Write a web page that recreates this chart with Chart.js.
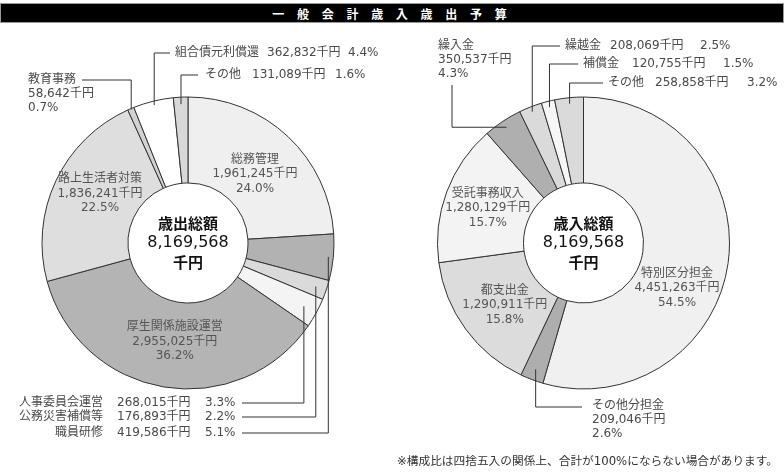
<!DOCTYPE html>
<html><head><meta charset="utf-8">
<script src="https://cdn.jsdelivr.net/npm/chart.js@4/dist/chart.umd.min.js"></script>
<style>
html,body{margin:0;padding:0;background:#fff;}
#wrap{position:relative;width:784px;height:472px;overflow:hidden;font-family:"Noto Sans CJK JP","Noto Sans",sans-serif;}
canvas{position:absolute;left:0;top:0;}
#title{position:absolute;left:0;top:3px;width:784px;height:20px;background:#000;color:#fff;font-weight:bold;font-size:12px;line-height:20px;text-align:center;letter-spacing:5px;border:1px solid #999;box-sizing:border-box;}
#note{position:absolute;left:397px;top:453px;font-size:11.7px;line-height:16px;color:#333;white-space:nowrap;font-family:"DejaVu Sans","Noto Sans CJK JP",sans-serif;}
</style></head>
<body><div id="wrap">
<div id="title">一 般 会 計 歳 入 歳 出 予 算</div>
<canvas id="c1" width="784" height="472"></canvas>
<canvas id="c2" width="784" height="472"></canvas>
<div id="note">※構成比は四捨五入の関係上、合計が100%にならない場合があります。</div>
</div>
<script>
// ---- data (thousand yen) ----
const expenditureCategories = ['総務管理','職員研修','公務災害補償等','人事委員会運営','厚生関係施設運営','路上生活者対策','教育事務','組合債元利償還','その他'];
const expenditureValues = [1961245, 419586, 176893, 268015, 2955025, 1836241, 58642, 362832, 131089];
const revenueCategories = ['特別区分担金','その他分担金','都支出金','受託事務収入','繰入金','繰越金','補償金','その他'];
const revenueValues = [4451263, 209046, 1290911, 1280129, 350537, 208069, 120755, 258858];
const expenditureTitle = '歳出総額';
const revenueTitle = '歳入総額';
const unit = '千円';

// ---- styles / layout ----
const expenditureColors = ['#efefef','#b2b2b2','#dadada','#f4f4f4','#b4b4b4','#dedede','#d2d2d2','#ffffff','#d8d8d8'];
const revenueColors = ['#f0f0f0','#aeaeae','#dcdcdc','#f3f3f3','#afafaf','#dadada','#f6f6f6','#dadada'];
const FONT = '"DejaVu Sans","Noto Sans CJK JP",sans-serif';
const CFONT = '"Noto Sans CJK JP",sans-serif';

const leftLayout = {
  pad:{left:41.5,right:449.5,top:96.5,bottom:82.5},
  inside:[{i:0,dx:-1.5,dy:4},{i:4,dx:3.5,dy:0},{i:5,dx:2.5,dy:-7}],
  stacks:[{i:6,x:28,y:80,from:[82,80],r:145,mode:'hv'}],
  rows:[
    {i:7,cols:[175,267,348],y:53,from:[170,53],r:142},
    {i:8,cols:[205,252,335],y:75,from:[198,75],r:139},
    {i:3,cols:[103,117,205],right:true,y:403,from:[242,403],r:132},
    {i:2,cols:[103,117,205],right:true,y:417,from:[242,417],r:135},
    {i:1,cols:[103,117,205],right:true,y:433,from:[242,433],r:141}
  ]
};
const rightLayout = {
  pad:{left:437,right:54,top:96.5,bottom:82.5},
  inside:[{i:0,dx:-5.5,dy:31},{i:2,dx:2,dy:3},{i:3,dx:-2,dy:0}],
  stacks:[
    {i:4,x:438,y:46,from:[452,85],r:139,mode:'vh'},
    {i:1,x:592,y:406,from:[582,407],r:135,mode:'hv'}
  ],
  rows:[
    {i:5,cols:[565,610,700],y:46,from:[560,46],r:141},
    {i:6,cols:[583,632,723],y:64,from:[578,64],r:140},
    {i:7,cols:[608,655,747],y:83,from:[603,83],r:140}
  ]
};

const fmt = v => v.toLocaleString('en-US');
const pctOf = (v,t) => (Math.round(v/t*1000)/10).toFixed(1)+'%';

function labelPlugin(layout, cats, title){
  return {
    id:'customLabels',
    afterDatasetsDraw(chart){
      const ctx = chart.ctx;
      const meta = chart.getDatasetMeta(0);
      const vals = chart.data.datasets[0].data;
      const total = vals.reduce((a,b)=>a+b,0);
      const pt = (i,r)=>{
        const a = meta.data[i].getProps(['startAngle','endAngle','x','y'],true);
        const m = (a.startAngle+a.endAngle)/2;
        return [a.x+Math.cos(m)*r, a.y+Math.sin(m)*r];
      };
      const lines = i => [cats[i], fmt(vals[i])+unit, pctOf(vals[i],total)];
      ctx.save();
      ctx.textBaseline='middle';
      ctx.font = '12px '+FONT;
      // inside labels
      ctx.fillStyle='#555';
      ctx.textAlign='center';
      layout.inside.forEach(o=>{
        const [x,y]=pt(o.i,100);
        lines(o.i).forEach((t,k)=>ctx.fillText(t,x+o.dx,y+o.dy+(k-1)*14.5));
      });
      ctx.strokeStyle='#333'; ctx.lineWidth=1;
      const drawPath = p => {ctx.beginPath(); ctx.moveTo(p[0][0],p[0][1]); for(let k=1;k<p.length;k++) ctx.lineTo(p[k][0],p[k][1]); ctx.stroke();};
      ctx.fillStyle='#4a4a4a';
      layout.stacks.forEach(o=>{
        ctx.textAlign='left';
        lines(o.i).forEach((t,k)=>ctx.fillText(t,o.x,o.y+k*13.7));
        const e = pt(o.i,o.r);
        const f = o.from;
        const p = o.mode==='hv' ? [f,[e[0],f[1]],e] : [f,[f[0],e[1]],e];
        drawPath(p);
      });
      layout.rows.forEach(o=>{
        const L = lines(o.i);
        ctx.textAlign = o.right ? 'right':'left';
        ctx.fillText(L[0],o.cols[0],o.y);
        ctx.textAlign='left';
        ctx.fillText(L[1],o.cols[1],o.y);
        ctx.fillText(L[2],o.cols[2],o.y);
        const e = pt(o.i,o.r);
        drawPath([o.from,[e[0],o.from[1]],e]);
      });
      const c = meta.data[0];
      ctx.fillStyle='#111';
      ctx.textAlign='center';
      ctx.font='bold 15px '+CFONT;
      ctx.fillText(title,c.x,c.y-20);
      ctx.font='16px "DejaVu Sans",sans-serif';
      ctx.fillText(fmt(total),c.x,c.y);
      ctx.font='bold 15px '+CFONT;
      ctx.fillText(unit,c.x,c.y+19);
      ctx.restore();
    }
  };
}

function makeChart(id, cats, vals, colors, layout, title){
  return new Chart(document.getElementById(id),{
    type:'doughnut',
    data:{labels:cats,datasets:[{data:vals,backgroundColor:colors,borderColor:'#333',borderWidth:1,borderAlign:'center'}]},
    options:{
      responsive:false,animation:false,devicePixelRatio:1,cutout:60,
      layout:{padding:layout.pad},
      plugins:{legend:{display:false},tooltip:{enabled:false},title:{display:false}}
    },
    plugins:[labelPlugin(layout,cats,title)]
  });
}
makeChart('c1',expenditureCategories,expenditureValues,expenditureColors,leftLayout,expenditureTitle);
makeChart('c2',revenueCategories,revenueValues,revenueColors,rightLayout,revenueTitle);
</script>
</body></html>
